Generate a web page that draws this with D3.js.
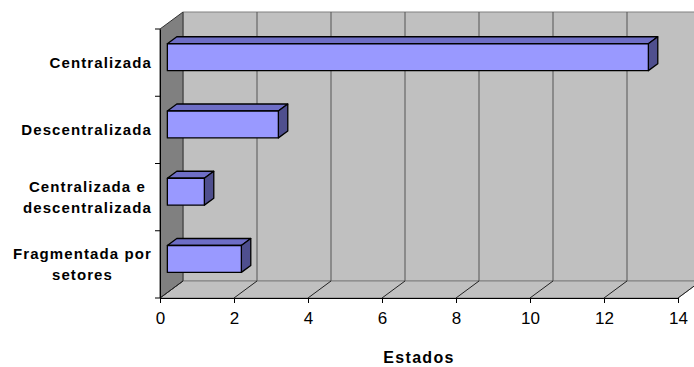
<!DOCTYPE html>
<html>
<head>
<meta charset="utf-8">
<script src="https://cdn.jsdelivr.net/npm/d3@7"></script>
<style>
  body { margin: 0; background: #fff; }
  svg text { font-family: "Liberation Sans", Arial, sans-serif; }
</style>
</head>
<body>
<div id="chart"></div>
<script>
// data
var categories = ['Centralizada', 'Descentralizada', 'Centralizada e\ndescentralizada', 'Fragmentada por\nsetores']
var values = [13, 3, 1, 2]
var xTicks = [0, 2, 4, 6, 8, 10, 12, 14]
var xTitle = 'Estados'

var width = 694, height = 367

// depth of the 3d box
var depthX = 23, depthY = -17
// bar sits between these fractions of the depth
var barFront = 0.32, barBack = 0.73

var svg = d3.select('#chart').append('svg')
  .attr('width', width)
  .attr('height', height)

var xScale = d3.scaleLinear()
  .domain([0, 14])
  .range([160, 678])

var yScale = d3.scaleBand()
  .domain(categories)
  .range([29, 298])
  .paddingInner(0)

var x0 = xScale(0), x1 = xScale(14)
var yTop = yScale.range()[0], yBot = yScale.range()[1]

// project a point at depth fraction f
function p(x, y, f) {
  return [x + f * depthX, y + f * depthY]
}
function poly(pts) {
  return pts.map(d => d.join(',')).join(' ')
}

// back wall
svg.append('polygon')
  .attr('points', poly([p(x0, yTop, 1), p(x1, yTop, 1), p(x1, yBot, 1), p(x0, yBot, 1)]))
  .attr('fill', '#c0c0c0')
  .attr('stroke', '#808080')
  .attr('stroke-width', 1)

// floor
svg.append('polygon')
  .attr('points', poly([p(x0, yBot, 0), p(x1, yBot, 0), p(x1, yBot, 1), p(x0, yBot, 1)]))
  .attr('fill', '#c0c0c0')
  .attr('stroke', '#808080')
  .attr('stroke-width', 1)

// left wall
svg.append('polygon')
  .attr('points', poly([p(x0, yTop, 0), p(x0, yTop, 1), p(x0, yBot, 1), p(x0, yBot, 0)]))
  .attr('fill', '#808080')
  .attr('stroke', '#333')
  .attr('stroke-width', 1)

// grid lines on back wall and floor
svg.selectAll('.grid')
  .data(xTicks.slice(1))
  .join('line')
  .attr('class', 'grid')
  .attr('x1', d => p(xScale(d), yTop, 1)[0])
  .attr('y1', d => p(xScale(d), yTop, 1)[1])
  .attr('x2', d => p(xScale(d), yBot, 1)[0])
  .attr('y2', d => p(xScale(d), yBot, 1)[1])
  .attr('stroke', '#555')
  .attr('stroke-width', 1)

svg.selectAll('.floorline')
  .data(xTicks)
  .join('line')
  .attr('class', 'floorline')
  .attr('x1', d => xScale(d))
  .attr('y1', yBot)
  .attr('x2', d => p(xScale(d), yBot, 1)[0])
  .attr('y2', d => p(xScale(d), yBot, 1)[1])
  .attr('stroke', '#222')
  .attr('stroke-width', 1)

// bars
var bh = yScale.bandwidth()
var bars = svg.selectAll('.bar')
  .data(categories.map((c, i) => ({ cat: c, value: values[i] })))
  .join('g')
  .attr('class', 'bar')

function barPts(d) {
  var xa = xScale(0), xb = xScale(d.value)
  var ya = yScale(d.cat) + bh * 0.3, yb = yScale(d.cat) + bh * 0.7
  return { xa: xa, xb: xb, ya: ya, yb: yb }
}

// top face
bars.append('polygon')
  .attr('points', d => {
    var b = barPts(d)
    return poly([p(b.xa, b.ya, barFront), p(b.xb, b.ya, barFront), p(b.xb, b.ya, barBack), p(b.xa, b.ya, barBack)])
  })
  .attr('fill', '#6e6ec6')
  .attr('stroke', '#000')
  .attr('stroke-width', 1.3)
  .attr('stroke-linejoin', 'round')

// side face
bars.append('polygon')
  .attr('points', d => {
    var b = barPts(d)
    return poly([p(b.xb, b.ya, barFront), p(b.xb, b.ya, barBack), p(b.xb, b.yb, barBack), p(b.xb, b.yb, barFront)])
  })
  .attr('fill', '#4f4f8e')
  .attr('stroke', '#000')
  .attr('stroke-width', 1.3)
  .attr('stroke-linejoin', 'round')

// front face
bars.append('polygon')
  .attr('points', d => {
    var b = barPts(d)
    return poly([p(b.xa, b.ya, barFront), p(b.xb, b.ya, barFront), p(b.xb, b.yb, barFront), p(b.xa, b.yb, barFront)])
  })
  .attr('fill', '#9999ff')
  .attr('stroke', '#000')
  .attr('stroke-width', 1.3)
  .attr('stroke-linejoin', 'round')

// x axis
var xAxis = d3.axisBottom(xScale)
  .tickValues(xTicks)
  .tickSize(5)
  .tickPadding(9)
var xg = svg.append('g')
  .attr('transform', 'translate(0,' + yBot + ')')
  .call(xAxis)
xg.select('.domain').attr('stroke', '#000')
xg.selectAll('text')
  .attr('font-size', 17)
  .attr('fill', '#000')
  .style('font-family', '"Liberation Sans", Arial, sans-serif')

// y axis line and ticks
var yAxis = d3.axisLeft(yScale).tickSize(0).tickFormat('')
var yg = svg.append('g')
  .attr('transform', 'translate(' + x0 + ',0)')
  .call(yAxis)
yg.select('.domain').attr('stroke', '#000')

var boundaries = categories.map(c => yScale(c)).concat([yBot])
svg.selectAll('.ytick')
  .data(boundaries)
  .join('line')
  .attr('class', 'ytick')
  .attr('x1', x0 - 5)
  .attr('x2', x0)
  .attr('y1', d => d)
  .attr('y2', d => d)
  .attr('stroke', '#000')

// y labels
var labelRight = 152
categories.forEach(function (c) {
  var lines = c.split('\n')
  var g = svg.append('g')
  var t = g.selectAll('text')
    .data(lines)
    .join('text')
    .attr('font-size', 15)
    .attr('font-weight', 'bold')
    .attr('letter-spacing', 1.1)
    .attr('text-anchor', 'middle')
    .text(d => d)
  var maxW = d3.max(t.nodes(), n => n.getComputedTextLength())
  var cy = yScale(c) + bh / 2
  var lh = 21
  t.attr('x', labelRight - maxW / 2)
    .attr('y', (d, i) => cy + 5.5 + (i - (lines.length - 1) / 2) * lh)
})

// x title
svg.append('text')
  .attr('x', (x0 + x1) / 2)
  .attr('y', 363)
  .attr('text-anchor', 'middle')
  .attr('font-size', 16)
  .attr('font-weight', 'bold')
  .attr('letter-spacing', 1.3)
  .text(xTitle)
</script>
</body>
</html>
